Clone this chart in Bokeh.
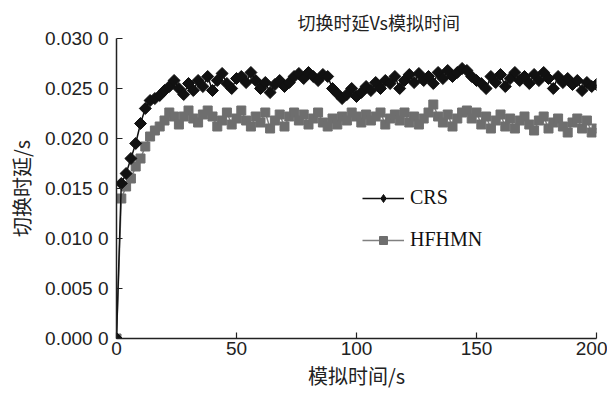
import numpy as np
from bokeh.plotting import figure
from bokeh.models import FixedTicker, Legend, LegendItem, Range1d
from bokeh.embed import file_html
from bokeh.resources import INLINE

title_text = "切换时延Vs模拟时间"
x_label = "模拟时间/s"
y_label = "切换时延/s"

sim_time = list(range(0, 201, 2))

crs = [0.0, 0.0155, 0.0165, 0.0180, 0.0195, 0.0215, 0.0230, 0.0238, 0.0240, 0.0243,
       0.0248, 0.0252, 0.0258, 0.0250, 0.0244, 0.0255, 0.0248, 0.0258, 0.0252, 0.0262,
       0.0248, 0.0258, 0.0265, 0.0255, 0.0250, 0.0260, 0.0262, 0.0256, 0.0266, 0.0258,
       0.0250, 0.0256, 0.0246, 0.0254, 0.0258, 0.0252, 0.0256, 0.0262, 0.0265, 0.0260,
       0.0266, 0.0262, 0.0258, 0.0264, 0.0262, 0.0250, 0.0245, 0.0240, 0.0244, 0.0250,
       0.0242, 0.0246, 0.0252, 0.0248, 0.0256, 0.0250, 0.0258, 0.0255, 0.0262, 0.0250,
       0.0258, 0.0264, 0.0256, 0.0265, 0.0258, 0.0262, 0.0255, 0.0266, 0.0260, 0.0268,
       0.0262, 0.0266, 0.0270, 0.0268, 0.0262, 0.0258, 0.0255, 0.0250, 0.0262, 0.0256,
       0.0264, 0.0252, 0.0260, 0.0266, 0.0258, 0.0262, 0.0255, 0.0264, 0.0258, 0.0266,
       0.0260, 0.0250, 0.0262, 0.0256, 0.0260, 0.0254, 0.0258, 0.0248, 0.0256, 0.0252,
       0.0254]

hfhmn = [0.0, 0.0140, 0.0152, 0.0160, 0.0172, 0.0180, 0.0192, 0.0202, 0.0208, 0.0212,
         0.0218, 0.0226, 0.0222, 0.0214, 0.0222, 0.0228, 0.0220, 0.0216, 0.0224, 0.0228,
         0.0222, 0.0212, 0.0218, 0.0226, 0.0214, 0.0220, 0.0228, 0.0218, 0.0212, 0.0222,
         0.0216, 0.0226, 0.0210, 0.0218, 0.0224, 0.0212, 0.0222, 0.0226, 0.0218, 0.0224,
         0.0214, 0.0220, 0.0226, 0.0216, 0.0212, 0.0220, 0.0214, 0.0222, 0.0218, 0.0226,
         0.0222, 0.0216, 0.0224, 0.0218, 0.0222, 0.0226, 0.0214, 0.0220, 0.0224, 0.0218,
         0.0226, 0.0216, 0.0222, 0.0214, 0.0220, 0.0226, 0.0234, 0.0222, 0.0216, 0.0224,
         0.0212, 0.0220, 0.0226, 0.0228, 0.0220, 0.0226, 0.0214, 0.0222, 0.0210, 0.0218,
         0.0224, 0.0212, 0.0220, 0.0210, 0.0218, 0.0222, 0.0214, 0.0208, 0.0218, 0.0222,
         0.0210, 0.0216, 0.0220, 0.0212, 0.0206, 0.0216, 0.0220, 0.0210, 0.0218, 0.0206,
         0.0210]

x_ticks = [0, 50, 100, 150, 200]
y_ticks = [0.0, 0.005, 0.010, 0.015, 0.020, 0.025, 0.030]
y_tick_labels = ["0.000 0", "0.005 0", "0.010 0", "0.015 0", "0.020 0", "0.025 0", "0.030 0"]

cjk = "Noto Sans CJK SC"

p = figure(width=607, height=396, output_backend="svg", toolbar_location=None,
           x_range=Range1d(0, 200), y_range=Range1d(0, 0.030),
           min_border_left=116, min_border_right=11, min_border_top=38, min_border_bottom=58,
           title=title_text)
p.outline_line_color = None
p.grid.visible = False
p.background_fill_color = "white"
p.title.align = "left"
p.title.offset = 181
p.title.standoff = 7
p.title.text_font = cjk
p.title.text_font_size = "18px"
p.title.text_font_style = "normal"
p.title.text_color = "#222222"

h_line = p.line(sim_time, hfhmn, line_color="#808080", line_width=1.5)
h_mark = p.scatter(sim_time, hfhmn, marker="square", size=9, fill_color="#6e6e6e",
                   line_color="#6e6e6e")
c_line = p.line(sim_time, crs, line_color="#111111", line_width=1.5)
c_mark = p.scatter(sim_time, crs, marker="square", angle=np.pi / 4, size=8.5,
                   fill_color="#111111", line_color="#111111")
# legend-only glyphs, placed outside the visible range
c_leg = p.scatter([-50], [-1], marker="diamond", size=16, fill_color="#111111",
                  line_color="#111111")
h_leg = p.scatter([-50], [-1], marker="square", size=10, fill_color="#6e6e6e",
                  line_color="#6e6e6e")

p.xaxis.ticker = FixedTicker(ticks=x_ticks)
p.yaxis.ticker = FixedTicker(ticks=y_ticks)
p.yaxis.major_label_overrides = {t: l for t, l in zip(y_ticks, y_tick_labels)}
for ax in (p.xaxis[0], p.yaxis[0]):
    ax.major_tick_in = 6
    ax.major_tick_out = 0
    ax.minor_tick_in = 0
    ax.minor_tick_out = 0
    ax.axis_line_color = "#222222"
    ax.axis_line_width = 1.5
    ax.major_tick_line_color = "#222222"
    ax.major_tick_line_width = 1.2
    ax.major_label_text_font = "Liberation Sans"
    ax.major_label_text_font_size = "19px"
    ax.major_label_text_color = "#222222"
    ax.axis_label_text_font = cjk
    ax.axis_label_text_font_size = "20px"
    ax.axis_label_text_font_style = "normal"
    ax.axis_label_text_color = "#222222"
p.xaxis.axis_label = x_label
p.yaxis.axis_label = y_label
p.xaxis.major_label_standoff = 3
p.xaxis.axis_label_standoff = 3
p.yaxis.major_label_standoff = 8
p.yaxis.axis_label_standoff = 6

legend = Legend(items=[LegendItem(label="CRS", renderers=[c_line, c_leg]),
                       LegendItem(label="HFHMN", renderers=[h_line, h_leg])],
                location=(246, 87), glyph_width=42, glyph_height=20, label_height=20,
                spacing=19, padding=0, margin=0, label_standoff=6,
                label_text_font="Liberation Serif", label_text_font_size="20px",
                label_text_color="#111111", background_fill_alpha=0,
                border_line_color=None)
p.add_layout(legend)

open("out.html", "w").write(file_html(p, INLINE))
